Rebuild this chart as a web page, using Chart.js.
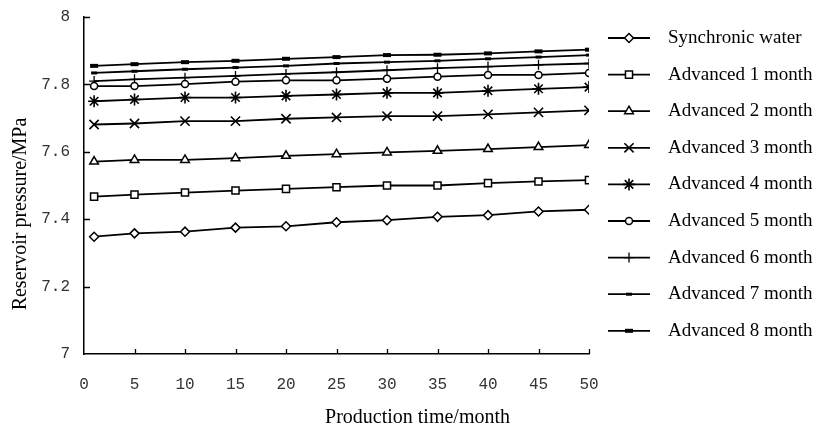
<!DOCTYPE html>
<html>
<head>
<meta charset="utf-8">
<script src="https://cdn.jsdelivr.net/npm/chart.js@4.4.0/dist/chart.umd.min.js"></script>
<style>
  body { margin: 0; background: #fff; }
  #wrap { width: 835px; height: 428px; }
</style>
</head>
<body>
<div id="wrap"><canvas id="pressureChart"></canvas></div>
<script>
const months = [1, 5, 10, 15, 20, 25, 30, 35, 40, 45, 50];
const synchronic = [7.348, 7.358, 7.363, 7.375, 7.379, 7.391, 7.397, 7.407, 7.412, 7.423, 7.428];
const advanced1 = [7.467, 7.473, 7.479, 7.485, 7.490, 7.495, 7.500, 7.500, 7.507, 7.512, 7.516];
const advanced2 = [7.571, 7.576, 7.576, 7.581, 7.588, 7.593, 7.598, 7.603, 7.608, 7.614, 7.620];
const advanced3 = [7.681, 7.684, 7.691, 7.691, 7.698, 7.702, 7.706, 7.706, 7.711, 7.717, 7.723];
const advanced4 = [7.750, 7.755, 7.761, 7.761, 7.766, 7.770, 7.775, 7.775, 7.781, 7.787, 7.792];
const advanced5 = [7.795, 7.795, 7.801, 7.808, 7.812, 7.812, 7.817, 7.823, 7.828, 7.828, 7.834];
const advanced6 = [7.810, 7.815, 7.820, 7.825, 7.831, 7.836, 7.842, 7.848, 7.853, 7.858, 7.862];
const advanced7 = [7.834, 7.839, 7.845, 7.850, 7.855, 7.862, 7.866, 7.870, 7.876, 7.881, 7.887];
const advanced8 = [7.855, 7.860, 7.866, 7.870, 7.876, 7.881, 7.887, 7.888, 7.892, 7.898, 7.903];

const seriesNames = ['Synchronic water', 'Advanced 1 month', 'Advanced 2 month', 'Advanced 3 month',
    'Advanced 4 month', 'Advanced 5 month', 'Advanced 6 month', 'Advanced 7 month', 'Advanced 8 month'];
const seriesValues = [synchronic, advanced1, advanced2, advanced3, advanced4, advanced5, advanced6, advanced7, advanced8];
const xTicks = [0, 5, 10, 15, 20, 25, 30, 35, 40, 45, 50];
const yTicks = [7, 7.2, 7.4, 7.6, 7.8, 8];

const xTitle = 'Production time/month';
const yTitle = 'Reservoir pressure/MPa';

// marker look per series
const markers = [
    { style: 'rectRot', radius: 4.5, border: 1.5 },
    { style: 'rect', radius: 5, border: 1.5 },
    { style: 'triangle', radius: 5, border: 1.5 },
    { style: 'crossRot', radius: 6.5, border: 1.6 },
    { style: 'star', radius: 6, border: 1.6 },
    { style: 'circle', radius: 3.5, border: 1.5 },
    { style: 'cross', radius: 5, border: 1.3 },
    { style: 'line', radius: 3, border: 3 },
    { style: 'line', radius: 4, border: 4 }
];

const serif = '"Liberation Serif", "Times New Roman", serif';
const tickFont = '"Liberation Mono", "DejaVu Sans Mono", monospace';

const datasets = seriesValues.map((vals, i) => ({
    label: seriesNames[i],
    data: vals.map((v, j) => ({ x: months[j], y: v })),
    borderColor: '#000',
    borderWidth: 1.8,
    backgroundColor: '#fff',
    pointStyle: markers[i].style,
    pointRadius: markers[i].radius,
    pointBorderWidth: markers[i].border,
    pointBorderColor: '#000',
    pointBackgroundColor: '#fff',
    tension: 0
}));

// inward tick marks, legend on the right, axis titles
const decorations = {
    id: 'decorations',
    afterDraw(chart) {
        const ctx = chart.ctx;
        const area = chart.chartArea;
        const xs = chart.scales.x;
        const ys = chart.scales.y;
        ctx.save();
        ctx.strokeStyle = '#000';
        ctx.lineWidth = 1.3;
        ctx.beginPath();
        xTicks.forEach(t => {
            if (t === 0) return;
            const px = Math.round(xs.getPixelForValue(t)) + 0.5;
            ctx.moveTo(px, area.bottom);
            ctx.lineTo(px, area.bottom - 5);
        });
        yTicks.forEach(t => {
            if (t === 7) return;
            const py = Math.round(ys.getPixelForValue(t)) + 0.5;
            ctx.moveTo(area.left, py);
            ctx.lineTo(area.left + 6, py);
        });
        ctx.stroke();

        // legend
        ctx.font = '19px ' + serif;
        ctx.textBaseline = 'middle';
        ctx.textAlign = 'left';
        const lx = area.right + 19;
        seriesNames.forEach((name, i) => {
            const y = 38 + i * 36.6;
            ctx.strokeStyle = '#000';
            ctx.lineWidth = 1.8;
            ctx.beginPath();
            ctx.moveTo(lx, y);
            ctx.lineTo(lx + 42, y);
            ctx.stroke();
            ctx.fillStyle = '#fff';
            ctx.lineWidth = markers[i].border;
            Chart.helpers.drawPoint(ctx, {
                pointStyle: markers[i].style,
                radius: markers[i].radius,
                rotation: 0,
                borderWidth: markers[i].border
            }, lx + 21, y);
            ctx.fillStyle = '#000';
            ctx.fillText(name, lx + 60, y);
        });

        // axis titles
        ctx.font = '20px ' + serif;
        ctx.textAlign = 'center';
        ctx.fillText(xTitle, chart.width / 2, 418);
        ctx.translate(21, 214);
        ctx.rotate(-Math.PI / 2);
        ctx.fillText(yTitle, 0, 0);
        ctx.restore();
    }
};

new Chart(document.getElementById('pressureChart'), {
    type: 'line',
    data: { datasets: datasets },
    options: {
        responsive: true,
        maintainAspectRatio: false,
        animation: false,
        layout: { padding: { left: 0, right: 246, top: 17, bottom: 0 } },
        plugins: {
            legend: { display: false },
            tooltip: { enabled: false }
        },
        scales: {
            x: {
                type: 'linear',
                min: 0,
                max: 50,
                afterBuildTicks: s => { s.ticks = xTicks.map(v => ({ value: v })); },
                afterFit: s => { s.height = 74; s.paddingLeft = 0; s.paddingRight = 0; },
                grid: { display: false, drawTicks: false },
                border: { display: true, color: '#000', width: 1.5 },
                ticks: {
                    padding: 21,
                    color: '#333',
                    font: { family: tickFont, size: 16 }
                }
            },
            y: {
                type: 'linear',
                min: 7,
                max: 8,
                afterBuildTicks: s => { s.ticks = yTicks.map(v => ({ value: v })); },
                afterFit: s => { s.width = 84; s.paddingTop = 0; s.paddingBottom = 0; },
                grid: { display: false, drawTicks: false },
                border: { display: true, color: '#000', width: 1.5 },
                ticks: {
                    padding: 14,
                    color: '#333',
                    font: { family: tickFont, size: 16 },
                    callback: v => String(v)
                }
            }
        }
    },
    plugins: [decorations]
});
</script>
</body>
</html>
